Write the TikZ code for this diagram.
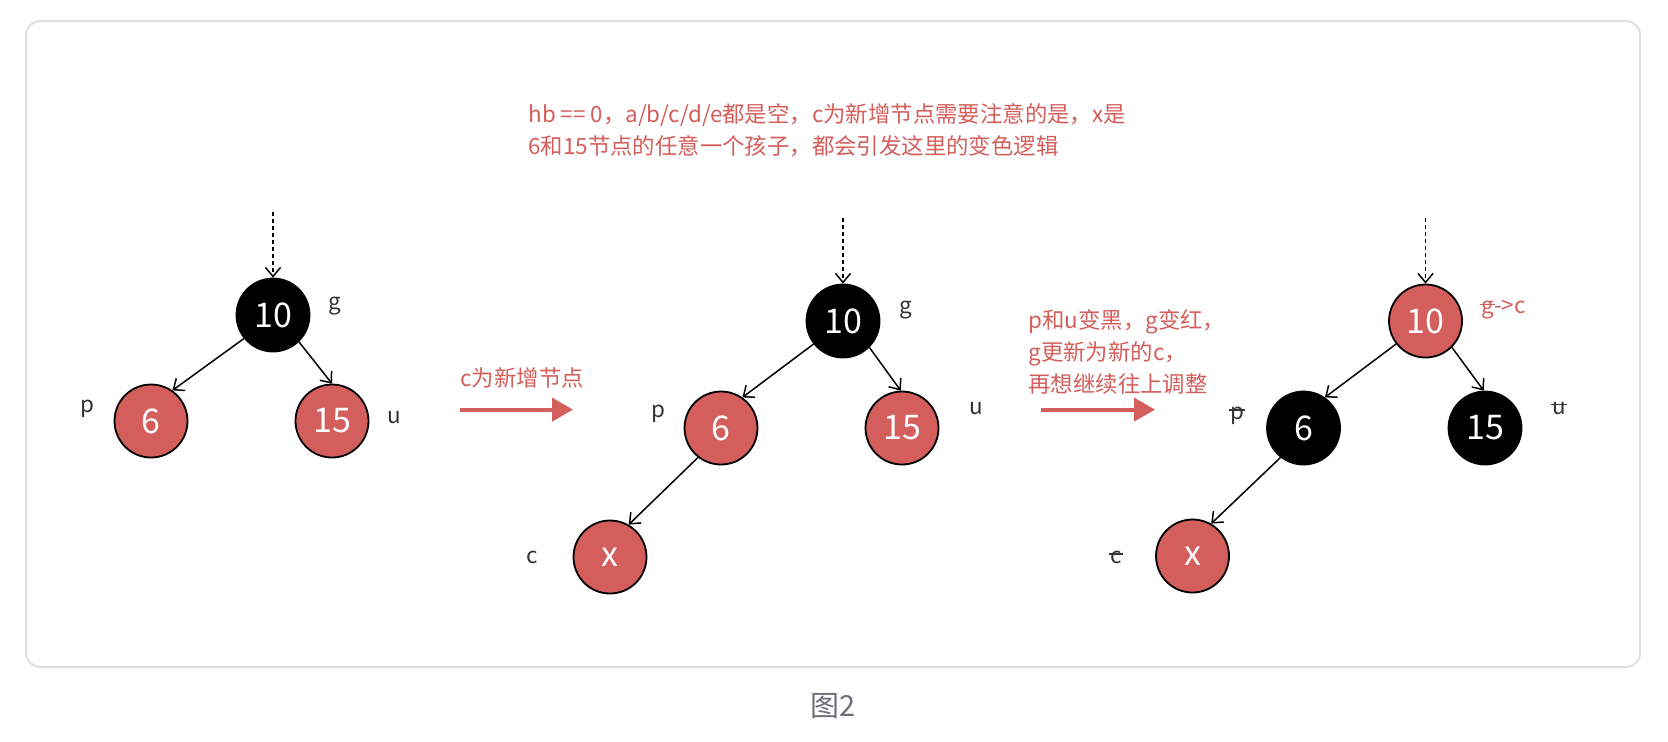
\documentclass[tikz,border=0pt]{standalone}
\usepackage{fontspec}
\setmainfont{Noto Sans CJK SC}
\usetikzlibrary{arrows.meta}
\definecolor{nodered}{RGB}{212,94,91}
\definecolor{labelgray}{RGB}{51,51,51}
\definecolor{cardgray}{RGB}{222,223,226}
\definecolor{capgray}{RGB}{107,111,118}
\newsavebox\strkbox
\newcommand{\struck}[1]{\sbox\strkbox{#1}\rlap{\kern-0.06em\rule[0.4em]{\dimexpr\wd\strkbox+0.1em\relax}{0.06em}}\usebox\strkbox}

\begin{document}
\begin{tikzpicture}[x=0.5pt, y=-0.5pt,
  rbnode/.style={circle, draw=black, line width=0.9pt, minimum size=36.5pt, inner sep=0pt, text=white, font=\fontsize{17pt}{17pt}\selectfont},
  rednode/.style={rbnode, fill=nodered},
  blacknode/.style={rbnode, fill=black},
  lbl/.style={text=labelgray, font=\fontsize{11.2pt}{14pt}\selectfont, inner sep=0pt},
  note/.style={text=nodered, font=\fontsize{11.2pt}{16pt}\selectfont, align=left, anchor=west, inner sep=0pt},
  link/.style={-{Straight Barb[length=4.5pt, width=7.5pt]}, line width=0.75pt},
  entry/.style={link, dash pattern=on 2pt off 1.5pt},
  stagearrow/.style={-{Triangle[length=10.5pt, width=11.5pt]}, line width=2pt, draw=nodered},
]
\fill[white] (0,0) rectangle (1668,741);
\draw[cardgray, line width=1pt, rounded corners=7pt] (26,21) rectangle (1640,667);
\useasboundingbox (0,0) rectangle (1668,741);

\node[note] (info) at (528,130.5) {hb == 0，a/b/c/d/e都是空，c为新增节点需要注意的是，x是\\6和15节点的任意一个孩子，都会引发这里的变色逻辑};

% before
\coordinate (in1) at (273,212);
\node[blacknode] (g1) at (273,315) {10};
\node[rednode] (p1) at (151,421) {6};
\node[rednode] (u1) at (332,421) {15};
\node[lbl] (gl1) at (335,306) {g};
\node[lbl] (pl1) at (87.5,409) {p};
\node[lbl] (ul1) at (394,418) {u};
\draw[entry] (in1) -- (g1);
\draw[link] (g1.219) -- (p1.55);
\draw[link] (g1.314) -- (u1.90);

\coordinate (s1a) at (460,409.6);
\coordinate (s1b) at (573,409.6);
\draw[stagearrow] (s1a) -- (s1b);
\node[note] (s1txt) at (460,378) {c为新增节点};

% after insert
\coordinate (in2) at (843,218);
\node[blacknode] (g2) at (843,321) {10};
\node[rednode] (p2) at (721,428) {6};
\node[rednode] (u2) at (902,428) {15};
\node[rednode] (c2) at (610,557) {x};
\node[lbl] (gl2) at (905.5,310) {g};
\node[lbl] (pl2) at (658.5,414) {p};
\node[lbl] (ul2) at (976.5,409) {u};
\node[lbl] (cl2) at (532,557.5) {c};
\draw[entry] (in2) -- (g2);
\draw[link] (g2.218) -- (p2.55);
\draw[link] (g2.315) -- (u2.92);
\draw[link] (p2.232) -- (c2.60);

\coordinate (s2a) at (1041,409.6);
\coordinate (s2b) at (1155,409.6);
\draw[stagearrow] (s2a) -- (s2b);
\node[note] (s2txt) at (1028,352) {p和u变黑，g变红，\\g更新为新的c，\\再想继续往上调整};

% recolored
\coordinate (in3) at (1425.5,218);
\node[rednode] (g3) at (1425.5,321) {10};
\node[blacknode] (p3) at (1303.5,428) {6};
\node[blacknode] (u3) at (1485,428) {15};
\node[rednode] (c3) at (1192.5,556) {x};
\node[lbl, text=nodered] (gl3) at (1503.5,310) {\struck{g}->c};
\node[lbl] (pl3) at (1237,416) {\struck{p}};
\node[lbl] (ul3) at (1559.5,408.5) {\struck{u}};
\node[lbl] (cl3) at (1116,557.5) {\struck{c}};
\draw[entry] (in3) -- (g3);
\draw[link] (g3.218) -- (p3.55);
\draw[link] (g3.315) -- (u3.92);
\draw[link] (p3.232) -- (c3.60);

\node[text=capgray, font=\fontsize{14.5pt}{14.5pt}\selectfont] (cap) at (833,706) {图2};
\end{tikzpicture}
\end{document}
